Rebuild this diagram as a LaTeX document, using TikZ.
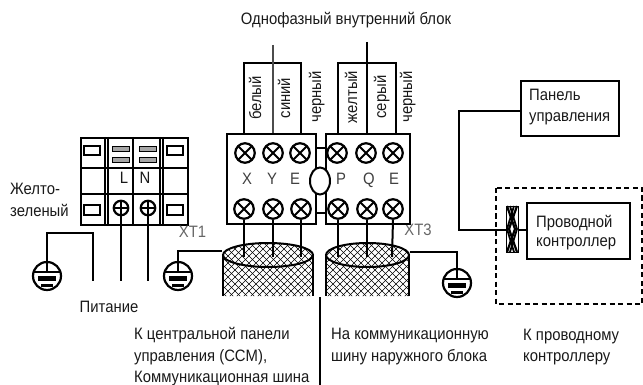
\documentclass[tikz,border=0pt]{standalone}
\usepackage{fontspec}
\setmainfont[FakeStretch=0.9]{Liberation Sans}
\usetikzlibrary{calc,shapes.geometric}
\tikzset{
 wire/.style={line width=2pt,black},
 boxb/.style={draw,line width=2pt,inner sep=0pt,anchor=north west},
 lbl/.style={inner sep=0pt,font=\fontsize{16.5}{16.5}\selectfont,text=black!90,text height=11pt,text depth=3pt},
 lleft/.style={lbl,anchor=west},
 vert/.style={lbl,rotate=90},
 screw/.style={circle,draw,line width=2.2pt,minimum size=19.5pt,inner sep=0pt,
   path picture={\draw[line width=2pt] (path picture bounding box.north west)--(path picture bounding box.south east) (path picture bounding box.north east)--(path picture bounding box.south west);}},
 pscrew/.style={circle,draw,line width=2.2pt,minimum size=14.5pt,inner sep=0pt,
   path picture={\draw[line width=1.6pt] (path picture bounding box.north)--(path picture bounding box.south) (path picture bounding box.west)--(path picture bounding box.east);}},
 slot/.style={draw,line width=2pt,fill=white,minimum width=16pt,minimum height=9pt,inner sep=0pt},
 slim/.style={draw,line width=1.8pt,fill=black!35,minimum width=17pt,minimum height=5pt,inner sep=0pt},
}
\newcommand{\gnd}[3]{% name x y
 \node[circle,draw,line width=2.2pt,minimum size=28pt,inner sep=0pt] (#1) at (#2,#3) {};
 \draw[line width=2pt] (#2,#3-14) -- (#2,#3-5);
 \fill[black] ($(#2,#3)+(-13.5,-5.5)$) rectangle ($(#2,#3)+(13.5,-3)$);
 \fill[black] ($(#2,#3)+(-9,-0.5)$) rectangle ($(#2,#3)+(9,4.5)$);
 \fill[black] ($(#2,#3)+(-6,7.5)$) rectangle ($(#2,#3)+(6,11)$);
}
\newcommand{\mesh}[3]{% x0 x1 name
 \begin{scope}
 \clip (#1,255) arc[start angle=180,end angle=360,x radius={(#2-#1)/2},y radius=12] -- (#2,296) -- (#1,296) -- cycle;
 \foreach \k in {100,107,...,440}{
   \draw[line width=0.5pt] (\k,240) -- (\k+60,300);
   \draw[line width=0.5pt] (\k+60,240) -- (\k,300);
 }
 \end{scope}
 \draw[line width=2pt] (#1,255) -- (#1,296) (#2,255) -- (#2,296);
 \node[ellipse,draw,line width=2pt,inner sep=0pt,minimum width=#2pt-#1pt,minimum height=24pt] (#3) at ({(#1+#2)/2},255) {};
}
\begin{document}
\begin{tikzpicture}[x=1pt,y=-1pt]
\useasboundingbox (0,0) rectangle (643,385);
\node[lbl] (title) at (346,21) {Однофазный внутренний блок};
% left terminal
\node[boxb,minimum width=107pt,minimum height=87pt] (tb) at (80,137) {};
\draw[line width=2pt] (80,168) -- (187,168) (80,194) -- (187,194);
\draw[line width=1.8pt] (105,137) -- (105,224) (108,137) -- (108,224);
\draw[line width=2pt] (133,137) -- (133,224);
\draw[line width=1.8pt] (160,137) -- (160,224) (163,137) -- (163,224);
\node[slot] (s1) at (92,151) {};
\node[slot] (s2) at (175,151) {};
\node[slot] (s3) at (92,210) {};
\node[slot] (s4) at (175,210) {};
\node[slim] (d1) at (121,149) {};
\node[slim] (d2) at (121,160) {};
\node[slim] (d3) at (148,149) {};
\node[slim] (d4) at (148,160) {};
\node[pscrew] (pL) at (121,208) {};
\node[pscrew] (pN) at (148,208) {};
\node[lbl] (tL) at (124,180) {L};
\node[lbl] (tN) at (145,179) {N};
\coordinate (eL) at (121,281);
\coordinate (eN) at (148,281);
\draw[wire] (pL.south) -- (eL);
\draw[wire] (pN.south) -- (eN);
\gnd{g1}{47}{276}
\gnd{g2}{178}{276}
\gnd{g3}{457}{283}
\coordinate (w1) at (93,281);
\draw[wire] (g1.north) -- (47,233) -- (93,233) -- (w1);
\node[lleft] (yg1) at (10,190) {Желто-};
\node[lleft] (yg2) at (10,213) {зеленый};
\node[lbl,text=black!60] (xt1) at (192.5,233) {XT1};
\node[lbl,text=black!60] (xt3) at (418,232) {XT3};
\node[lbl] (pit) at (109,308) {Питание};
% blocks
\node[boxb,minimum width=89pt,minimum height=90pt] (bl) at (226,133) {};
\node[boxb,minimum width=84pt,minimum height=90pt] (br) at (325,133) {};
\node[boxb,minimum width=57pt,minimum height=71pt] (tl) at (243,62) {};
\node[boxb,minimum width=58pt,minimum height=71pt] (tr) at (337,62) {};
\coordinate (cl) at (272.5,45);
\coordinate (cr) at (367,42);
\draw[line width=2pt,black!70] (cl) -- (272.5,133);
\draw[wire] (cr) -- (367,133);
\draw[line width=2pt] (bl.east |- 0,148) -- (br.west |- 0,148) (bl.east |- 0,213) -- (br.west |- 0,213);
\node[ellipse,draw,line width=2pt,fill=white,minimum width=20pt,minimum height=27pt,inner sep=0pt] (ov) at (320,181) {};
% screws
\foreach \n/\x/\y in {a1/245/153,a2/273/153,a3/300/153,a4/337/153,a5/366/153,a6/393/153,
                      b1/244/209,b2/273/209,b3/301/209,b4/338/209,b5/367/209,b6/393/209}
  \node[screw] (\n) at (\x,\y) {};
% terminal letters
\foreach \n/\t/\x in {lX/X/247,lY/Y/272,lE/E/295,lP/P/341,lQ/Q/369,lF/E/394}
  \node[lbl,text=black!75] (\n) at (\x,181) {\t};
% wire colour labels
\node[vert] (v1) at (257,98) {белый};
\node[vert] (v2) at (286,98) {синий};
\node[vert] (v3) at (317,97) {черный};
\node[vert] (v4) at (353,97) {желтый};
\node[vert] (v5) at (382,97) {серый};
\node[vert] (v6) at (408,97) {черный};
% cables
\mesh{223}{313}{c1}
\mesh{326}{409}{c2}
\foreach \n/\x in {b1/244,b2/273,b3/301,b4/338,b5/367,b6/392}
  \draw[wire] (\n.south) -- (\x,257);
\draw[wire] (g2.north) -- (178,251) -- (c1.west |- 0,251);
\draw[wire] (c2.east |- 0,252) -- (457,252) -- (g3.north);
\coordinate (sep0) at (320,297);
\coordinate (sep1) at (320,385);
\draw[wire] (sep0) -- (sep1);
% bottom texts
\node[lleft] (t1) at (134,335) {К центральной панели};
\node[lleft] (t2) at (134,357) {управления (CCM),};
\node[lleft] (t3) at (134,378) {Коммуникационная шина};
\node[lleft] (t4) at (331,335) {На коммуникационную};
\node[lleft] (t5) at (331,357) {шину наружного блока};
\node[lleft] (t6) at (523,336) {К проводному};
\node[lleft] (t7) at (523,357) {контроллеру};
% right side
\node[boxb,minimum width=98pt,minimum height=55pt] (panel) at (520,80) {};
\node[lleft] at (529,97) {Панель};
\node[lleft] at (529,118) {управления};
\node[boxb,minimum width=103pt,minimum height=56pt] (ctrl) at (526,202) {};
\node[lleft] at (536,223) {Проводной};
\node[lleft] at (536,243) {контроллер};
\draw[line width=2pt,dash pattern=on 5pt off 3.5pt] (496,188) rectangle (642,304);
\node[draw,line width=1pt,anchor=north west,inner sep=0pt,minimum width=12pt,minimum height=46pt] (con) at (506,206) {};
\begin{scope}
 \clip (506,206) rectangle (518,252);
 \draw[line width=2.2pt] (507,206) -- (515,229) -- (507,252) (517,206) -- (509,229) -- (517,252);
 \draw[line width=1.8pt] (510,206) -- (517,229) -- (510,252) (514,206) -- (507,229) -- (514,252);
\end{scope}
\draw[wire] (panel.west |- 0,111) -- (459,111) -- (459,230) -- (con.west |- 0,230);
\draw[wire] (con.east |- 0,230) -- (ctrl.west |- 0,230);
\end{tikzpicture}
\end{document}
